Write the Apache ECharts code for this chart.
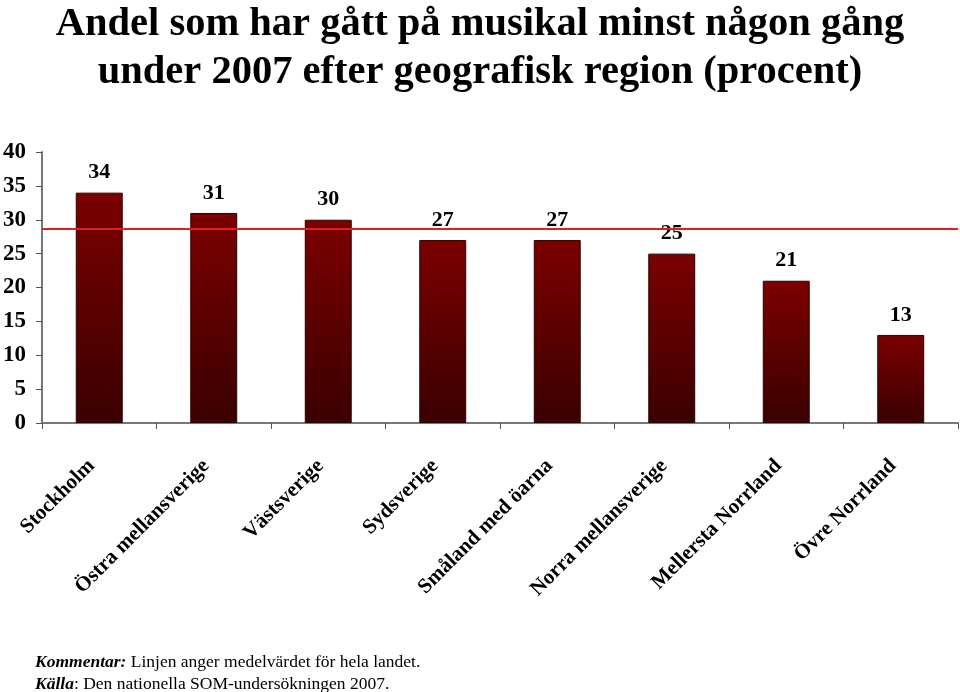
<!DOCTYPE html>
<html><head><meta charset="utf-8">
<script src="https://cdn.jsdelivr.net/npm/echarts@6/dist/echarts.min.js"></script>
<style>html,body{margin:0;padding:0;background:#fff}#c{width:960px;height:692px}</style>
</head><body><div id="c"></div>
<script>
var categories = ['Stockholm','Östra mellansverige','Västsverige','Sydsverige','Småland med öarna','Norra mellansverige','Mellersta Norrland','Övre Norrland'];
var values = [34,31,30,27,27,25,21,13];
var average = 28.6;
var yTicks = [0,5,10,15,20,25,30,35,40];
var titleText = 'Andel som har gått på musikal minst någon gång\nunder 2007 efter geografisk region (procent)';
var serif = '"Liberation Serif","Times New Roman",serif';
var chart = echarts.init(document.getElementById('c'));
chart.setOption({
  animation:false,
  title:{text:titleText,left:'center',top:-4,textStyle:{fontFamily:serif,fontWeight:'bold',fontSize:40.5,lineHeight:48,color:'#000'}},
  grid:{left:42,right:2,top:152,bottom:269},
  xAxis:{type:'category',data:categories,
    axisLine:{lineStyle:{color:'#777',width:2}},
    axisTick:{show:true,length:6,lineStyle:{color:'#555'}},
    axisLabel:{rotate:45,interval:0,margin:32,padding:[0,11,0,0],fontFamily:serif,fontWeight:'bold',fontSize:21,color:'#000'}},
  yAxis:{type:'value',min:0,max:40,interval:5,
    splitLine:{show:false},
    axisLine:{show:true,lineStyle:{color:'#777',width:2}},
    axisTick:{show:true,length:6,lineStyle:{color:'#555'}},
    axisLabel:{margin:16,fontFamily:serif,fontWeight:'bold',fontSize:23,color:'#000',
      formatter:function(v){return yTicks.indexOf(v)>=0?String(v):'';}}},
  series:[{type:'bar',data:values,barWidth:'41%',
    itemStyle:{borderColor:'#2a0000',borderWidth:1,
      color:new echarts.graphic.LinearGradient(0,0,0,1,[{offset:0,color:'#7c0000'},{offset:1,color:'#3a0000'}])},
    label:{show:true,position:'top',distance:9,fontFamily:serif,fontWeight:'bold',fontSize:22,color:'#000'},
    markLine:{symbol:'none',silent:true,label:{show:false},
      lineStyle:{color:'#e02020',width:2,type:'solid'},
      data:[{yAxis:average}]}
  }],
  graphic:[
    {type:'text',left:35,top:651,style:{text:'{b|Kommentar:} Linjen anger medelvärdet för hela landet.\n{b|Källa}: Den nationella SOM-undersökningen 2007.',
      font:'17.5px '+serif,fill:'#000',lineHeight:22,
      rich:{b:{fontFamily:serif,fontSize:17.5,fontWeight:'bold',fontStyle:'italic'}}}}
  ]
});
</script></body></html>
